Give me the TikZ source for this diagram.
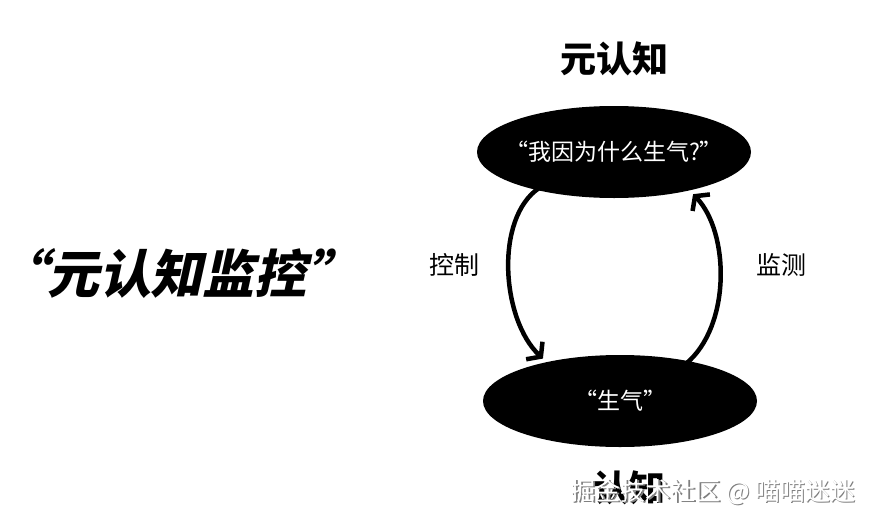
\documentclass[tikz,border=0pt]{standalone}
\usepackage{fontspec}
\usepackage{tikz}
\usepackage{xcolor}
\usetikzlibrary{shapes.geometric,arrows.meta}
\newfontfamily\cjk{Noto Sans CJK SC}
\newfontfamily\cjkslant{Noto Sans CJK SC}[FakeSlant=0.22]
\tikzset{
    blob/.style = {ellipse, fill=black, inner sep=0pt, minimum width=274pt, minimum height=92pt},
    blob-text/.style = {text=white, font=\cjk\fontsize{23}{23}\selectfont},
    big-title/.style = {font=\cjk\bfseries\fontsize{36}{36}\selectfont},
    side-label/.style = {font=\cjk\fontsize{25}{25}\selectfont},
    loop-arrow/.style = {line width=4.5pt, line cap=round, line join=round, -{Straight Barb[length=9pt,width=24pt]}},
}

\begin{document}
\begin{tikzpicture}[x=1pt,y=-1pt]
\useasboundingbox (0,0) rectangle (873,525);
\node [blob, label={[blob-text]center:“我因为什么生气?”}] (meta) at (614,152) {};
\node [blob, label={[blob-text]center:“生气”}] (feel) at (620,401) {};
\node [big-title] (metatitle) at (614,59) {元认知};
\node [big-title] (feeltitle) at (629,488) {认知};
\node [font=\cjkslant\bfseries\fontsize{52}{52}\selectfont] (headline) at (177,273) {“元认知监控”};
\node [side-label] (control) at (454,265) {控制};
\node [side-label] (monitor) at (781,265) {监测};
% left loop goes down, right loop goes up
\draw [loop-arrow, shorten <=-4pt, shorten >=5pt] (meta.206) .. controls +(-42,28) and +(-45,-42) .. (feel.152);
\draw [loop-arrow, shorten <=-4pt, shorten >=5pt] (feel.30) .. controls +(42,-35) and +(40,42) .. (meta.333);
% watermark
\node [font=\cjk\fontsize{25}{25}\selectfont, text=gray] at (714.5,493.5) {掘金技术社区 @ 喵喵迷迷};
\node [font=\cjk\fontsize{25}{25}\selectfont, text=white] (mark) at (713,492) {掘金技术社区 @ 喵喵迷迷};
\end{tikzpicture}
\end{document}
